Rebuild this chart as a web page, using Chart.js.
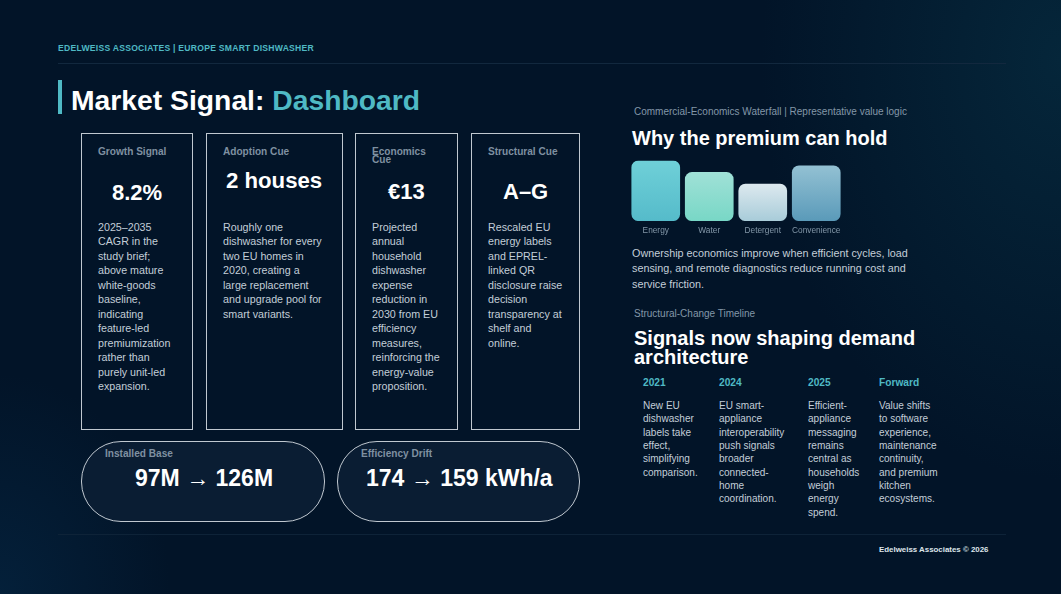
<!DOCTYPE html>
<html>
<head>
<meta charset="utf-8">
<title>Market Signal: Dashboard</title>
<script src="https://cdn.jsdelivr.net/npm/chart.js@4"></script>
<style>
html, body { margin: 0; padding: 0; background: #021428; }
#slide {
    position: relative; width: 1061px; height: 594px; overflow: hidden;
    font-family: "Liberation Sans", Arial, sans-serif; color: #fff;
    background:
        radial-gradient(ellipse 300px 420px at 1061px 60px, #05263a 0%, rgba(5,38,58,0) 100%),
        radial-gradient(ellipse 170px 220px at 0 594px, #04203a 0%, rgba(4,32,58,0) 100%),
        #021428;
}
#slide > * { position: absolute; }
.t { white-space: nowrap; }
.card { border: 1px solid #c0c8d0; box-sizing: border-box; }
.pill { border: 1px solid #c0c8d0; box-sizing: border-box; border-radius: 40px; background: #0a1d33; }
.label { font-size: 10.1px; font-weight: bold; color: #7f90a1; line-height: 10px; white-space: nowrap; }
.big { font-size: 22px; font-weight: bold; white-space: nowrap; line-height: 26px; }
.big span { font-family: "Liberation Serif", serif; font-weight: normal; }
.body { font-size: 10.7px; line-height: 14.45px; color: #c3ced8; white-space: nowrap; }
.sub { font-size: 10px; color: #8397a8; white-space: nowrap; line-height: 14px; }
.head { font-size: 20px; font-weight: bold; line-height: 19px; white-space: nowrap; }
.year { font-size: 10.2px; font-weight: bold; color: #4fb9c4; line-height: 14px; }
.note { font-size: 10.05px; line-height: 13.35px; color: #c3ced8; white-space: nowrap; }
</style>
</head>
<body>
<div id="slide">
    <div class="t" style="left:58px;top:42px;font-size:8.6px;font-weight:bold;letter-spacing:.25px;color:#4fb9c4;line-height:12px">EDELWEISS ASSOCIATES | EUROPE SMART DISHWASHER</div>
    <div style="left:58px;top:63px;width:948px;height:1px;background:#12283e"></div>
    <div style="left:58px;top:80px;width:4px;height:34px;background:#4fb9c4"></div>
    <div class="t" style="left:71px;top:83px;font-size:28.3px;font-weight:bold;line-height:35px">Market Signal: <span style="color:#4fb9c4">Dashboard</span></div>

    <div class="card" style="left:81px;top:133px;width:112px;height:297px"></div>
    <div class="label" style="left:98px;top:147px">Growth Signal</div>
    <div class="big" style="left:112px;top:180px">8.2%</div>
    <div class="body" style="left:98px;top:220px">2025–2035<br>CAGR in the<br>study brief;<br>above mature<br>white-goods<br>baseline,<br>indicating<br>feature-led<br>premiumization<br>rather than<br>purely unit-led<br>expansion.</div>

    <div class="card" style="left:206px;top:133px;width:137px;height:297px"></div>
    <div class="label" style="left:223px;top:147px">Adoption Cue</div>
    <div class="big" style="left:226px;top:168px;font-size:22.2px">2 houses</div>
    <div class="body" style="left:223px;top:220px">Roughly one<br>dishwasher for every<br>two EU homes in<br>2020, creating a<br>large replacement<br>and upgrade pool for<br>smart variants.</div>

    <div class="card" style="left:355px;top:133px;width:103px;height:297px"></div>
    <div class="label" style="left:372px;top:148px;line-height:8px">Economics<br>Cue</div>
    <div class="big" style="left:388px;top:179px">€13</div>
    <div class="body" style="left:372px;top:220px">Projected<br>annual<br>household<br>dishwasher<br>expense<br>reduction in<br>2030 from EU<br>efficiency<br>measures,<br>reinforcing the<br>energy-value<br>proposition.</div>

    <div class="card" style="left:471px;top:133px;width:109px;height:297px"></div>
    <div class="label" style="left:488px;top:147px">Structural Cue</div>
    <div class="big" style="left:503px;top:179px">A–G</div>
    <div class="body" style="left:488px;top:220px">Rescaled EU<br>energy labels<br>and EPREL-<br>linked QR<br>disclosure raise<br>decision<br>transparency at<br>shelf and<br>online.</div>

    <div class="pill" style="left:81px;top:441px;width:244px;height:81px"></div>
    <div class="label" style="left:105px;top:449px">Installed Base</div>
    <div class="big" style="left:135px;top:465px;font-size:23px">97M <span>→</span> 126M</div>
    <div class="pill" style="left:337px;top:441px;width:243px;height:81px"></div>
    <div class="label" style="left:361px;top:449px">Efficiency Drift</div>
    <div class="big" style="left:366px;top:465px;font-size:23px">174 <span>→</span> 159 kWh/a</div>

    <div class="sub" style="left:634px;top:105px">Commercial-Economics Waterfall | Representative value logic</div>
    <div class="head" style="left:632px;top:129px">Why the premium can hold</div>
    <div style="left:622px;top:151px;width:228px;height:90px"><canvas id="waterfall"></canvas></div>
    <div class="body" style="left:632px;top:246px;line-height:15.3px;font-size:10.8px">Ownership economics improve when efficient cycles, load<br>sensing, and remote diagnostics reduce running cost and<br>service friction.</div>

    <div class="sub" style="left:634px;top:307px">Structural-Change Timeline</div>
    <div class="head" style="left:634px;top:329px">Signals now shaping demand<br>architecture</div>
    <div class="year" style="left:643px;top:376px">2021</div>
    <div class="note" style="left:643px;top:399px">New EU<br>dishwasher<br>labels take<br>effect,<br>simplifying<br>comparison.</div>
    <div class="year" style="left:719px;top:376px">2024</div>
    <div class="note" style="left:719px;top:399px">EU smart-<br>appliance<br>interoperability<br>push signals<br>broader<br>connected-<br>home<br>coordination.</div>
    <div class="year" style="left:808px;top:376px">2025</div>
    <div class="note" style="left:808px;top:399px">Efficient-<br>appliance<br>messaging<br>remains<br>central as<br>households<br>weigh<br>energy<br>spend.</div>
    <div class="year" style="left:879px;top:376px">Forward</div>
    <div class="note" style="left:879px;top:399px">Value shifts<br>to software<br>experience,<br>maintenance<br>continuity,<br>and premium<br>kitchen<br>ecosystems.</div>

    <div style="left:58px;top:534px;width:948px;height:1px;background:#0e2338"></div>
    <div class="t" style="left:879px;top:544px;font-size:7.9px;font-weight:bold;line-height:11px;color:#dfe6ec">Edelweiss Associates © 2026</div>
</div>
<script>
const categories = ['Energy', 'Water', 'Detergent', 'Convenience'];
const barValues = [60, 48.5, 37, 55];
const yTicks = { min: 0, max: 60 };
const gradientTop = ['#6fd0d8', '#a0e1d7', '#dde9ef', '#93c1d3'];
const gradientBottom = ['#55bbca', '#78d7c6', '#a8ccd9', '#5a9ab9'];

const barFill = context => {
    const { chart, dataIndex } = context;
    const y = chart.scales.y;
    if (!chart.chartArea || !Number.isFinite(y?.getPixelForValue(0))) return gradientTop[dataIndex];
    const grad = chart.ctx.createLinearGradient(0, y.getPixelForValue(barValues[dataIndex]), 0, y.getPixelForValue(0));
    grad.addColorStop(0, gradientTop[dataIndex]);
    grad.addColorStop(1, gradientBottom[dataIndex]);
    return grad;
};

new Chart(document.getElementById('waterfall'), {
    type: 'bar',
    data: {
        labels: categories,
        datasets: [{ data: barValues, backgroundColor: barFill, borderRadius: 7, borderSkipped: false, categoryPercentage: 1, barPercentage: 0.91 }]
    },
    options: {
        responsive: true,
        maintainAspectRatio: false,
        animation: false,
        layout: { padding: { left: 7, right: 7, top: 9.5, bottom: 0 } },
        plugins: { legend: { display: false }, tooltip: { enabled: false } },
        scales: {
            x: {
                grid: { display: false, drawTicks: false }, border: { display: false },
                ticks: { color: '#8397a8', font: { family: '"Liberation Sans"', size: 8.3 }, padding: 5, maxRotation: 0, autoSkip: false }
            },
            y: { display: false, min: yTicks.min, max: yTicks.max }
        }
    }
});
</script>
</body>
</html>
